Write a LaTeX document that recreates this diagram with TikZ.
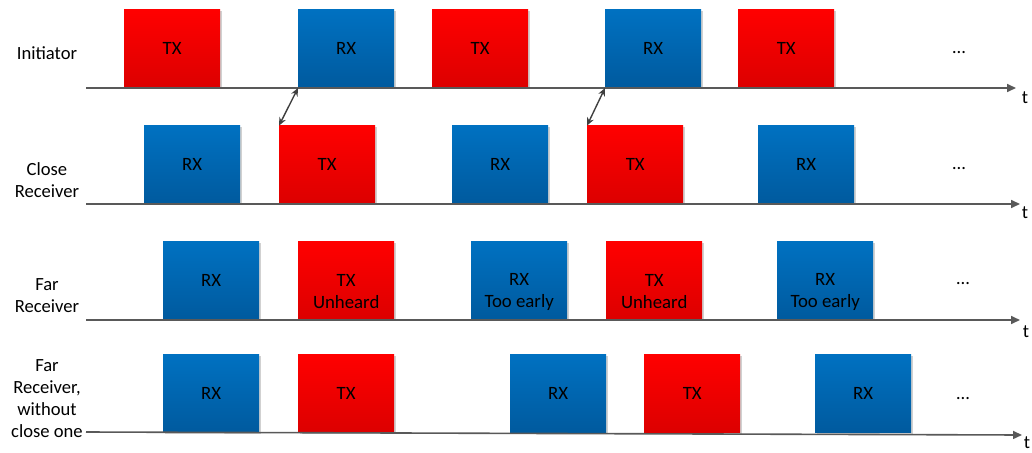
\documentclass[tikz,border=0pt]{standalone}
\usepackage{fontspec}
\setmainfont{Carlito}
\usetikzlibrary{arrows.meta}
\definecolor{axisgray}{HTML}{595959}
\definecolor{arrgray}{HTML}{404040}
\definecolor{redtop}{HTML}{FF0000}
\definecolor{redbot}{HTML}{DC0000}
\definecolor{bluetop}{HTML}{0071C1}
\definecolor{bluebot}{HTML}{005A9E}
\begin{document}
\begin{tikzpicture}[x=1pt,y=-1pt,
  blockbase/.style={anchor=south west, minimum width=96pt, minimum height=78pt, inner sep=0pt,
    preaction={fill=black!18, transform canvas={xshift=1.8pt,yshift=-0.8pt}}},
  txbox/.style={blockbase, top color=redtop, bottom color=redbot},
  rxbox/.style={blockbase, top color=bluetop, bottom color=bluebot},
  blabel/.style={anchor=base, inner sep=0pt, font=\fontsize{18.8}{22}\selectfont, align=center},
  rowlabel/.style={anchor=center, inner sep=0pt, font=\fontsize{18.6}{22}\selectfont, align=center},
  axis/.style={draw=axisgray, line width=1.6pt, -{Triangle[length=9pt,width=8pt]}},
  dots/.style={inner sep=0pt, font=\fontsize{18.6}{22}\selectfont},
  tlabel/.style={inner sep=0pt, font=\fontsize{18.6}{22}\selectfont},
  sync/.style={draw=arrgray, line width=1.4pt, {Stealth[length=8pt,width=7pt]}-{Stealth[length=8pt,width=7pt]}}
]
\useasboundingbox (0,0) rectangle (1032,452);

% ---- Row 1: Initiator
\coordinate (a1s) at (86,88);
\coordinate (a1e) at (1016,88);
\node[txbox] (i1) at (124,88) {};
\node[rxbox] (i2) at (298,88) {};
\node[txbox] (i3) at (432,88) {};
\node[rxbox] (i4) at (605,88) {};
\node[txbox] (i5) at (738,88) {};
\draw[axis] (a1s) -- (a1e);
\node[blabel] (i1t) at ([yshift=-45pt]i1.north) {TX};
\node[blabel] (i2t) at ([yshift=-45pt]i2.north) {RX};
\node[blabel] (i3t) at ([yshift=-45pt]i3.north) {TX};
\node[blabel] (i4t) at ([yshift=-45pt]i4.north) {RX};
\node[blabel] (i5t) at ([yshift=-45pt]i5.north) {TX};
\node[rowlabel] (l1) at (47,53) {Initiator};
\node[dots] (d1) at (959,53) {…};
\node[tlabel] (t1) at (1025,98) {t};

% ---- Row 2: Close receiver
\coordinate (a2s) at (86,204);
\coordinate (a2e) at (1020,204);
\node[rxbox] (c1) at (144,204) {};
\node[txbox] (c2) at (279,204) {};
\node[rxbox] (c3) at (452,204) {};
\node[txbox] (c4) at (587,204) {};
\node[rxbox] (c5) at (758,204) {};
\draw[axis] (a2s) -- (a2e);
\node[blabel] (c1t) at ([yshift=-45pt]c1.north) {RX};
\node[blabel] (c2t) at ([yshift=-45pt]c2.north) {TX};
\node[blabel] (c3t) at ([yshift=-45pt]c3.north) {RX};
\node[blabel] (c4t) at ([yshift=-45pt]c4.north) {TX};
\node[blabel] (c5t) at ([yshift=-45pt]c5.north) {RX};
\node[rowlabel] (l2) at (47,180) {Close\\Receiver};
\node[dots] (d2) at (959,169) {…};
\node[tlabel] (t2) at (1025,213) {t};

% sync arrows
\draw[sync] (i2.south west) -- (c2.north west);
\draw[sync] (i4.south west) -- (c4.north west);

% ---- Row 3: Far receiver
\coordinate (a3s) at (86,320);
\coordinate (a3e) at (1020,320);
\node[rxbox] (f1) at (163,320) {};
\node[txbox] (f2) at (298,320) {};
\node[rxbox] (f3) at (471,320) {};
\node[txbox] (f4) at (606,320) {};
\node[rxbox] (f5) at (777,320) {};
\draw[axis] (a3s) -- (a3e);
\node[blabel] (f1t) at ([yshift=-45pt]f1.north) {RX};
\node[blabel] (f2t) at ([yshift=-67pt]f2.north) {TX\\Unheard};
\node[blabel] (f3t) at ([yshift=-66pt]f3.north) {RX\\Too early};
\node[blabel] (f4t) at ([yshift=-67pt]f4.north) {TX\\Unheard};
\node[blabel] (f5t) at ([yshift=-66pt]f5.north) {RX\\Too early};
\node[rowlabel] (l3) at (47,295.5) {Far\\Receiver};
\node[dots] (d3) at (963,284) {…};
\node[tlabel] (t3) at (1026,332) {t};

% ---- Row 4: Far receiver without close one
\coordinate (a4s) at (86,432);
\coordinate (a4e) at (1022,435);
\node[rxbox] (g1) at (163,433) {};
\node[txbox] (g2) at (298,433) {};
\node[rxbox] (g3) at (510,433) {};
\node[txbox] (g4) at (644,433) {};
\node[rxbox] (g5) at (815,433) {};
\draw[axis] (a4s) -- (a4e);
\node[blabel] (g1t) at ([yshift=-45pt]g1.north) {RX};
\node[blabel] (g2t) at ([yshift=-45pt]g2.north) {TX};
\node[blabel] (g3t) at ([yshift=-45pt]g3.north) {RX};
\node[blabel] (g4t) at ([yshift=-45pt]g4.north) {TX};
\node[blabel] (g5t) at ([yshift=-45pt]g5.north) {RX};
\node[rowlabel] (l4) at (47,399) {Far\\Receiver,\\without\\close one};
\node[dots] (d4) at (963,399) {…};
\node[tlabel] (t4) at (1027,443) {t};
\end{tikzpicture}
\end{document}
